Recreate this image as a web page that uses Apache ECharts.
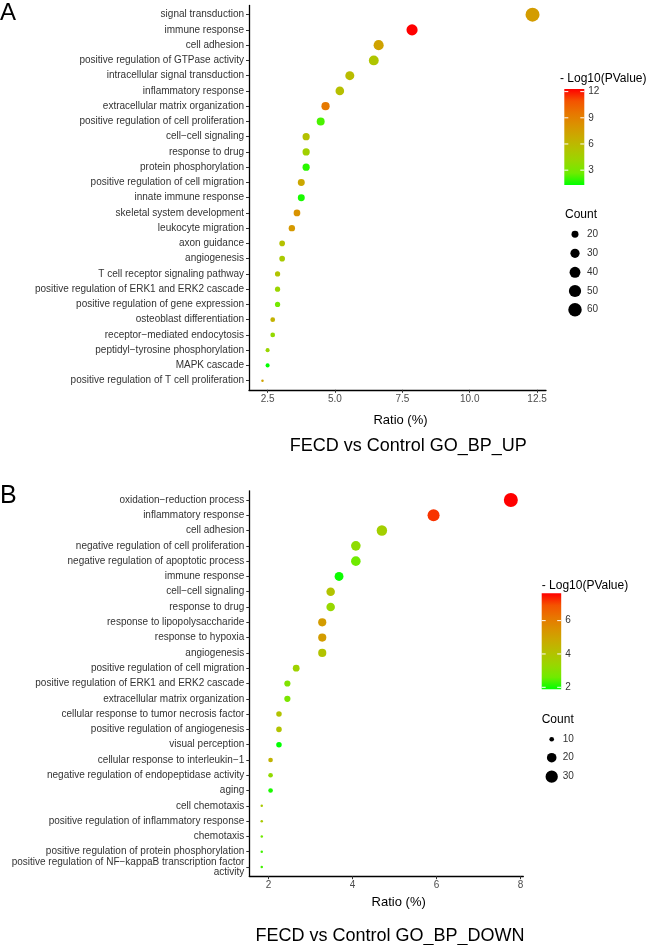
<!DOCTYPE html>
<html><head><meta charset="utf-8">
<script src="https://cdn.jsdelivr.net/npm/echarts@6/dist/echarts.min.js"></script>
<style>html,body{margin:0;padding:0;background:#fff}#c{width:649px;height:945px}</style>
</head><body><div id="c"></div>
<script>
// ---------- DATA ----------
const termsA = ["signal transduction","immune response","cell adhesion","positive regulation of GTPase activity","intracellular signal transduction","inflammatory response","extracellular matrix organization","positive regulation of cell proliferation","cell−cell signaling","response to drug","protein phosphorylation","positive regulation of cell migration","innate immune response","skeletal system development","leukocyte migration","axon guidance","angiogenesis","T cell receptor signaling pathway","positive regulation of ERK1 and ERK2 cascade","positive regulation of gene expression","osteoblast differentiation","receptor−mediated endocytosis","peptidyl−tyrosine phosphorylation","MAPK cascade","positive regulation of T cell proliferation"];
const ratioA = [12.33,7.86,6.62,6.44,5.55,5.18,4.65,4.47,3.93,3.93,3.93,3.75,3.75,3.59,3.40,3.04,3.04,2.87,2.87,2.87,2.69,2.69,2.50,2.50,2.31];
const countA = [65,42,35,34,29,27,25,24,21,21,21,20,20,19,18,16,16,15,15,15,14,14,13,13,12];
const logpA  = [7.6,12.3,7.3,5.2,5.8,5.6,9.4,2.2,5.5,4.5,1.8,7.0,1.6,8.1,7.8,5.5,4.9,5.3,4.2,2.8,6.4,3.9,4.1,1.3,7.3];

const termsB = ["oxidation−reduction process","inflammatory response","cell adhesion","negative regulation of cell proliferation","negative regulation of apoptotic process","immune response","cell−cell signaling","response to drug","response to lipopolysaccharide","response to hypoxia","angiogenesis","positive regulation of cell migration","positive regulation of ERK1 and ERK2 cascade","extracellular matrix organization","cellular response to tumor necrosis factor","positive regulation of angiogenesis","visual perception","cellular response to interleukin−1","negative regulation of endopeptidase activity","aging","cell chemotaxis","positive regulation of inflammatory response","chemotaxis","positive regulation of protein phosphorylation","positive regulation of NF−kappaB transcription factor\nactivity"];
const ratioB = [7.77,5.93,4.70,4.08,4.08,3.68,3.48,3.48,3.28,3.28,3.28,2.66,2.45,2.45,2.25,2.25,2.25,2.05,2.05,2.05,1.84,1.84,1.84,1.84,1.84];
const countB = [38,29,23,20,20,18,17,17,16,16,16,13,12,12,11,11,11,10,10,10,9,9,9,9,9];
const logpB  = [7.64,7.2,3.6,3.15,2.6,1.95,4.0,3.3,5.2,5.2,4.0,3.5,2.9,2.8,4.0,4.0,1.88,4.5,3.2,2.05,3.8,3.8,2.6,2.3,2.3];

const xTicksA = [2.5,5,7.5,10,12.5];
const xTicksB = [2,4,6,8];
const cbTicksA = [3,6,9,12];
const cbTicksB = [2,4,6];
const sizeBreaksA = [20,30,40,50,60];
const sizeBreaksB = [10,20,30];

// ---------- STYLE ----------
const FONT = "'Liberation Sans', Arial, Helvetica, sans-serif";
const GRAD = ['#00FF00','#70EB00','#98D700','#B3C200','#C9AB00','#DA9200','#E87600','#F45300','#FF0000'];
const D_MIN = 2.5, D_MAX = 14;

function sizeFn(cmin, cmax){
  return c => D_MIN + (D_MAX - D_MIN) * Math.sqrt(Math.max(0,(c - cmin)) / (cmax - cmin));
}
const sizeA = sizeFn(Math.min(...countA), Math.max(...countA));
const sizeB = sizeFn(Math.min(...countB), Math.max(...countB));
const pA = [Math.min(...logpA), Math.max(...logpA)];
const pB = [Math.min(...logpB), Math.max(...logpB)];

function yAxisFor(terms, gi){
  const idx = terms.map((_, i) => i);
  return {
    type: 'value', gridIndex: gi, inverse: true, min: -0.6, max: terms.length - 1 + 0.6,
    axisLine: {show: true, onZero: false, lineStyle: {color: '#000', width: 1.3}},
    axisTick: {show: true, length: 3, customValues: idx, lineStyle: {color: '#333', width: 1}},
    axisLabel: {customValues: idx, formatter: v => terms[Math.round(v)], fontSize: 10, color: '#333',
      fontFamily: FONT, margin: 5, lineHeight: 9.6, align: 'right', showMinLabel: true, showMaxLabel: true, hideOverlap: false},
    splitLine: {show: false}
  };
}
function xAxisFor(ticks, gi, min, max, dec){
  return {
    type: 'value', gridIndex: gi, min: min, max: max, position: 'bottom',
    axisLine: {show: true, onZero: false, lineStyle: {color: '#000', width: 1.3}},
    axisTick: {show: true, length: 3, customValues: ticks, lineStyle: {color: '#333', width: 1}},
    axisLabel: {customValues: ticks, formatter: v => v.toFixed(dec), fontSize: 10, color: '#4d4d4d',
      fontFamily: FONT, margin: 4, showMinLabel: true, showMaxLabel: true},
    splitLine: {show: false}
  };
}

function txt(x, y, s, size, align, color){
  return {type: 'text', x: x, y: y, silent: true,
    style: {text: s, fontSize: size, fontFamily: FONT, fill: color || '#000',
      textAlign: align || 'left', align: align || 'left', textVerticalAlign: 'middle', verticalAlign: 'middle'}};
}

function colorbar(left, top, w, h, range, ticks){
  const els = [];
  const stops = GRAD.map((c, i) => ({offset: 1 - i / (GRAD.length - 1), color: c})).reverse();
  els.push({type: 'rect', shape: {x: left, y: top, width: w, height: h}, silent: true,
    style: {fill: {type: 'linear', x: 0, y: 0, x2: 0, y2: 1, colorStops: stops}}});
  ticks.forEach(t => {
    const y = top + h * (range[1] - t) / (range[1] - range[0]);
    els.push({type: 'line', shape: {x1: left, y1: y, x2: left + 4, y2: y}, silent: true, style: {stroke: '#fff', lineWidth: 1}});
    els.push({type: 'line', shape: {x1: left + w - 4, y1: y, x2: left + w, y2: y}, silent: true, style: {stroke: '#fff', lineWidth: 1}});
    els.push(txt(left + w + 4, y, String(t), 10, 'left', '#333'));
  });
  return els;
}
function sizeLegend(cx, labelX, ys, breaks, fn){
  const els = [];
  breaks.forEach((b, i) => {
    els.push({type: 'circle', shape: {cx: cx, cy: ys[i], r: fn(b) / 2}, silent: true, style: {fill: '#000'}});
    els.push(txt(labelX, ys[i], String(b), 10, 'left', '#333'));
  });
  return els;
}

const graphics = [].concat(
  [txt(0, 13.5, 'A', 24), txt(0, 496, 'B', 25)],
  [txt(400.5, 420.7, 'Ratio (%)', 13, 'center'), txt(408.3, 446, 'FECD vs Control GO_BP_UP', 18, 'center')],
  [txt(398.7, 902.7, 'Ratio (%)', 13, 'center'), txt(390, 936, 'FECD vs Control GO_BP_DOWN', 18, 'center')],
  [txt(560, 79, '- Log10(PValue)', 12)],
  colorbar(564.3, 89, 20, 96, [1.3, 12.3], cbTicksA),
  [txt(565, 215, 'Count', 12)],
  sizeLegend(575, 587, [234.3, 253.3, 272.3, 291, 309.7], sizeBreaksA, sizeA),
  [txt(541.7, 586, '- Log10(PValue)', 12)],
  colorbar(541.7, 593.3, 19.5, 96, [1.88, 7.64], cbTicksB),
  [txt(541.7, 720, 'Count', 12)],
  sizeLegend(551.7, 562.7, [739.3, 757.7, 776.7], sizeBreaksB, sizeB)
);

const chart = echarts.init(document.getElementById('c'), null, {renderer: 'canvas'});
chart.setOption({
  animation: false,
  backgroundColor: '#fff',
  grid: [
    {left: 249, top: 5.5, width: 297, height: 384.3, containLabel: false},
    {left: 249.3, top: 490.8, width: 274, height: 385.4, containLabel: false}
  ],
  xAxis: [xAxisFor(xTicksA, 0, 1.81, 12.83, 1), xAxisFor(xTicksB, 1, 1.5435, 8.0665, 0)],
  yAxis: [yAxisFor(termsA, 0), yAxisFor(termsB, 1)],
  visualMap: [
    {show: false, type: 'continuous', seriesIndex: 0, dimension: 2, min: pA[0], max: pA[1], inRange: {color: GRAD}},
    {show: false, type: 'continuous', seriesIndex: 1, dimension: 2, min: pB[0], max: pB[1], inRange: {color: GRAD}}
  ],
  series: [
    {type: 'scatter', xAxisIndex: 0, yAxisIndex: 0,
      data: termsA.map((t, i) => [ratioA[i], i, logpA[i], countA[i]]),
      symbolSize: d => sizeA(d[3]), itemStyle: {opacity: 1}},
    {type: 'scatter', xAxisIndex: 1, yAxisIndex: 1,
      data: termsB.map((t, i) => [ratioB[i], i, logpB[i], countB[i]]),
      symbolSize: d => sizeB(d[3]), itemStyle: {opacity: 1}}
  ],
  graphic: graphics
});
</script>
</body></html>
